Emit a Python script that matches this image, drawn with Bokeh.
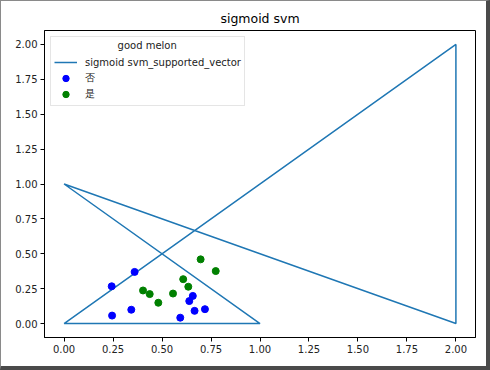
from bokeh.plotting import figure
from bokeh.models import Range1d, FixedTicker, PrintfTickFormatter, Legend, LegendItem
from bokeh.embed import file_html
from bokeh.resources import INLINE

# support-vector polyline
sv_x = [0, 1, 0, 2, 2, 0]
sv_y = [0, 0, 1, 0, 2, 0]

# blue points (否)
neg_density = [0.666, 0.243, 0.245, 0.343, 0.639, 0.657, 0.360, 0.593, 0.719]
neg_sugar = [0.091, 0.267, 0.057, 0.099, 0.161, 0.198, 0.370, 0.042, 0.103]

# green points (是)
pos_density = [0.697, 0.774, 0.634, 0.608, 0.556, 0.403, 0.481, 0.437]
pos_sugar = [0.460, 0.376, 0.264, 0.318, 0.215, 0.237, 0.149, 0.211]

ticks = [0.0, 0.25, 0.5, 0.75, 1.0, 1.25, 1.5, 1.75, 2.0]

FONT = "DejaVu Sans"

p = figure(width=490, height=370, output_backend="svg", toolbar_location=None,
           x_range=Range1d(-0.1, 2.1), y_range=Range1d(-0.1, 2.1),
           min_border_left=43, min_border_right=16, min_border_top=29, min_border_bottom=34,
           title="sigmoid svm")
p.styles = {"border-top": "1px solid #8a8a8a", "border-left": "1px solid #8a8a8a",
            "border-right": "4px solid #4a4a4a", "border-bottom": "4px solid #4a4a4a"}

p.title.align = "center"
p.title.text_font = FONT
p.title.text_font_size = "12.5px"
p.title.text_font_style = "normal"
p.title.text_color = "black"

p.xgrid.visible = False
p.ygrid.visible = False
p.outline_line_color = "black"
p.outline_line_width = 1
p.outline_line_alpha = 1

for ax in (p.xaxis[0], p.yaxis[0]):
    ax.ticker = FixedTicker(ticks=ticks)
    ax.formatter = PrintfTickFormatter(format="%.2f")
    ax.major_label_text_font = FONT
    ax.major_label_text_font_size = "10px"
    ax.major_label_text_color = "#222222"
    ax.axis_line_color = "black"
    ax.major_tick_line_color = "black"
    ax.major_tick_out = 4
    ax.major_tick_in = 0
    ax.minor_tick_line_color = None
    ax.major_label_standoff = 3

line_r = p.line(sv_x, sv_y, line_color="#1f77b4", line_width=1.5)
neg_r = p.scatter(neg_density, neg_sugar, size=7, fill_color="blue", line_color="blue")
pos_r = p.scatter(pos_density, pos_sugar, size=7, fill_color="green", line_color="green")

legend = Legend(items=[
    LegendItem(label="sigmoid svm_supported_vector", renderers=[line_r]),
    LegendItem(label="否", renderers=[neg_r]),
    LegendItem(label="是", renderers=[pos_r]),
], location="top_left")
# title padded with no-break spaces so that it sits centred over the entries
legend.title = "\u00a0" * 20 + "good melon"
legend.title_text_font = FONT
legend.title_text_font_size = "10px"
legend.title_text_font_style = "normal"
legend.title_text_color = "#222222"
legend.label_text_font = FONT
legend.label_text_font_size = "10px"
legend.label_text_color = "#222222"
legend.border_line_color = "#cccccc"
legend.border_line_width = 1
legend.background_fill_alpha = 0.8
legend.glyph_width = 23
legend.glyph_height = 16
legend.label_height = 16
legend.spacing = 0
legend.padding = 3
legend.margin = 6
legend.label_standoff = 8
legend.title_standoff = 3
p.add_layout(legend)

open("out.html", "w").write(file_html(p, INLINE))
